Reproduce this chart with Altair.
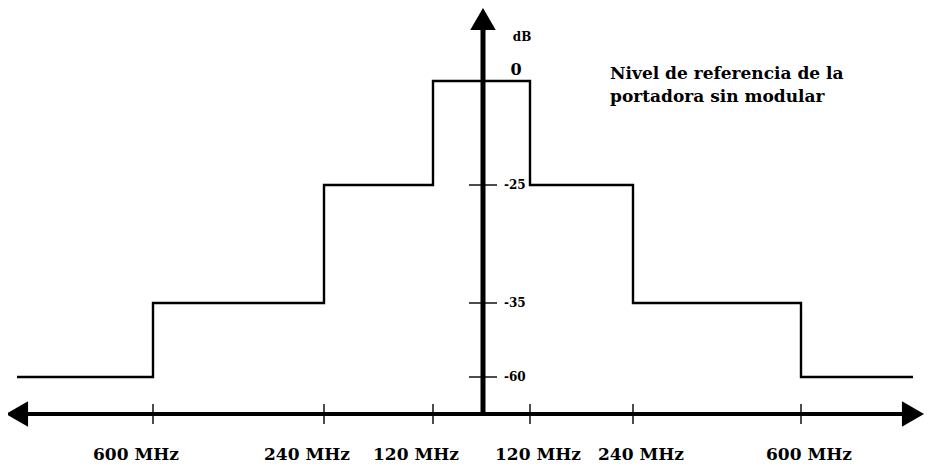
import altair as alt
import pandas as pd

# Spectrum mask (schematic): frequency offsets from the carrier (MHz) and dB levels
freq_ticks = [-600, -240, -120, 120, 240, 600]
freq_labels = ["600 MHz", "240 MHz", "120 MHz", "120 MHz", "240 MHz", "600 MHz"]
mask_edges = [-1000, -600, -240, -120, 120, 240, 600, 1000]
mask_levels = [-60, -35, -25, 0, -25, -35, -60, -60]
db_ticks = [-25, -35, -60]
db_labels = ["-25", "-35", "-60"]
zero_label = ["0"]
unit_label = ["dB"]
note_lines = ["Nivel de referencia de la", "portadora sin modular"]

# schematic (non-proportional) scales, as in the drawing
X_DOMAIN = [-1000, -600, -240, -120, 0, 120, 240, 600, 1000]
X_RANGE = [9, 145, 316, 425, 475, 522, 625, 793, 905]
Y_DOMAIN = [-75, -60, -35, -25, 0, 20]
Y_RANGE = [406, 369, 295, 177, 73, 11]
AXIS_Y = -75
TOP_Y = 20

xs = alt.Scale(domain=X_DOMAIN, range=X_RANGE, nice=False, zero=False)
ys = alt.Scale(domain=Y_DOMAIN, range=Y_RANGE, nice=False, zero=False)


def X(f="x"):
    return alt.X(f"{f}:Q", scale=xs, axis=None)


def Y(f="y"):
    return alt.Y(f"{f}:Q", scale=ys, axis=None)


SERIF = "DejaVu Serif"

mask_df = pd.DataFrame({"x": mask_edges, "y": mask_levels})
mask = alt.Chart(mask_df).mark_line(
    interpolate="step-after", color="black", strokeWidth=2.4
).encode(x=X(), y=Y())

vaxis = alt.Chart(pd.DataFrame({"x": [0], "y": [AXIS_Y], "y2": [TOP_Y]})).mark_rule(
    color="black", strokeWidth=5
).encode(x=X(), y=Y(), y2=alt.Y2("y2:Q"))

haxis = alt.Chart(
    pd.DataFrame({"x": [mask_edges[0]], "x2": [mask_edges[-1]], "y": [AXIS_Y]})
).mark_rule(color="black", strokeWidth=4).encode(x=X(), x2=alt.X2("x2:Q"), y=Y())

arrow_up = alt.Chart(pd.DataFrame({"x": [0], "y": [TOP_Y]})).mark_point(
    shape="triangle-up", filled=True, color="black", size=650, opacity=1
).encode(x=X(), y=Y())
arrow_left = alt.Chart(pd.DataFrame({"x": [mask_edges[0]], "y": [AXIS_Y]})).mark_point(
    shape="triangle-left", filled=True, color="black", size=650, opacity=1
).encode(x=X(), y=Y())
arrow_right = alt.Chart(pd.DataFrame({"x": [mask_edges[-1]], "y": [AXIS_Y]})).mark_point(
    shape="triangle-right", filled=True, color="black", size=650, opacity=1
).encode(x=X(), y=Y())

xticks = alt.Chart(pd.DataFrame({"x": freq_ticks, "y": [AXIS_Y] * len(freq_ticks)})).mark_tick(
    orient="vertical", size=20, thickness=2, color="black"
).encode(x=X(), y=Y())

yticks = alt.Chart(pd.DataFrame({"x": [0] * len(db_ticks), "y": db_ticks})).mark_tick(
    orient="horizontal", size=28, thickness=2, color="black"
).encode(x=X(), y=Y())

ytick_text = alt.Chart(
    pd.DataFrame({"x": [0] * len(db_ticks), "y": db_ticks, "t": db_labels})
).mark_text(
    align="left", baseline="middle", dx=21, font=SERIF, fontWeight="bold", fontSize=12, color="black"
).encode(x=X(), y=Y(), text="t:N")

zero_text = alt.Chart(pd.DataFrame({"x": [0], "y": [0], "t": zero_label})).mark_text(
    align="center", baseline="bottom", dx=33, dy=-3, font=SERIF, fontWeight="bold", fontSize=16, color="black"
).encode(x=X(), y=Y(), text="t:N")

unit_text = alt.Chart(pd.DataFrame({"x": [0], "y": [0], "t": unit_label})).mark_text(
    align="center", baseline="middle", dx=39, dy=-44, font=SERIF, fontWeight="bold", fontSize=12, color="black"
).encode(x=X(), y=Y(), text="t:N")

lab_df = pd.DataFrame({"x": freq_ticks, "y": [AXIS_Y] * len(freq_ticks), "t": freq_labels})
left_labels = alt.Chart(lab_df[lab_df.x < 0]).mark_text(
    align="center", baseline="middle", dx=-17, dy=41, font=SERIF, fontWeight="bold", fontSize=17, color="black"
).encode(x=X(), y=Y(), text="t:N")
right_labels = alt.Chart(lab_df[lab_df.x > 0]).mark_text(
    align="center", baseline="middle", dx=8, dy=41, font=SERIF, fontWeight="bold", fontSize=17, color="black"
).encode(x=X(), y=Y(), text="t:N")

note = alt.Chart(pd.DataFrame({"x": [freq_ticks[3]], "y": [0]})).mark_text(
    align="left", baseline="alphabetic", dx=80, dy=-2, font=SERIF, fontWeight="bold", fontSize=17,
    lineHeight=23, color="black"
).encode(x=X(), y=Y(), text=alt.value(note_lines))

chart = alt.layer(
    mask, vaxis, haxis, arrow_up, arrow_left, arrow_right, xticks, yticks,
    ytick_text, zero_text, unit_text, left_labels, right_labels, note
).properties(
    width=918, height=455, padding=0, background="white",
    autosize=alt.AutoSizeParams(type="none")
).configure_view(stroke=None)

chart.save("out.html", embed_options={"renderer": "svg", "actions": False})
